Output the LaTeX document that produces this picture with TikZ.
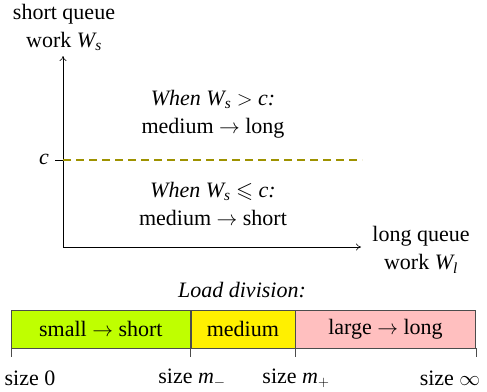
\documentclass[tikz,border=0pt]{standalone}
\usetikzlibrary{arrows.meta}
\usepackage{amssymb}
\usepackage{fontspec}
\setmainfont{Liberation Serif}
\definecolor{cline}{RGB}{158,146,0}
\definecolor{cgreen}{RGB}{191,255,0}
\definecolor{cyellow}{RGB}{255,240,0}
\definecolor{cpink}{RGB}{255,191,191}
\newcommand{\vW}[1]{\textit{W\textsubscript{#1}}}
\begin{document}
\begin{tikzpicture}[x=1pt,y=-1pt,
  lbl/.style={font=\fontsize{22}{28}\selectfont, align=center, inner sep=0pt},
  seg/.style={draw=black!70, line width=0.6pt, minimum height=38pt, inner sep=0pt, anchor=west, font=\fontsize{22}{28}\selectfont},
  axis/.style={line width=0.6pt, -{To[length=5pt,width=7pt]}}]
\useasboundingbox (0,0) rectangle (487,391);
% axes
\coordinate (O) at (63,247);
\coordinate (ytip) at (63,56);
\coordinate (xtip) at (361,247);
\draw[axis] (O) -- (ytip);
\draw[axis] (O) -- (xtip);
\node[lbl] (ylab) at (64,27) {short queue\\work \vW{s}};
\node[lbl] (xlab) at (421,250) {long queue\\work \vW{l}};
% threshold
\coordinate (cl) at (55,160);
\coordinate (c0) at (63,160);
\coordinate (cr) at (362,160);
\draw[line width=0.6pt] (cl) -- (c0);
\draw[cline, line width=1.2pt, dash pattern=on 8pt off 5pt] (c0) -- (cr);
\node[lbl, anchor=east] (clab) at (49,159) {\textit{c}};
\node[lbl] (upper) at (213,114) {\textit{When} \vW{s} $>$ \textit{c:}\\medium $\rightarrow$ long};
\node[lbl] (lower) at (213,204) {\textit{When} \vW{s} $\leqslant$ \textit{c:}\\medium $\rightarrow$ short};
% load division
\node[lbl] (ld) at (242,290) {\textit{Load division:}};
\node[seg, fill=cgreen, minimum width=179pt] (s1) at (11,329) {small $\rightarrow$ short};
\node[seg, fill=cyellow, minimum width=104pt] (s2) at (s1.east) {medium};
\node[seg, fill=cpink, minimum width=180pt] (s3) at (s2.east) {large $\rightarrow$ long};
\foreach \n/\a in {t0/s1.south west, t1/s1.south east, t2/s2.south east, t3/s3.south east} {
  \coordinate (\n) at (\a);
  \draw[black!70, line width=0.6pt] (\n) -- ++(0,9);
}
\node[lbl] (z0) at (30,378) {size 0};
\node[lbl] (z1) at (192,378) {size \textit{m}$_{-}$};
\node[lbl] (z2) at (296,378) {size \textit{m}$_{+}$};
\node[lbl] (z3) at (450,378) {size $\infty$};
\end{tikzpicture}
\end{document}
